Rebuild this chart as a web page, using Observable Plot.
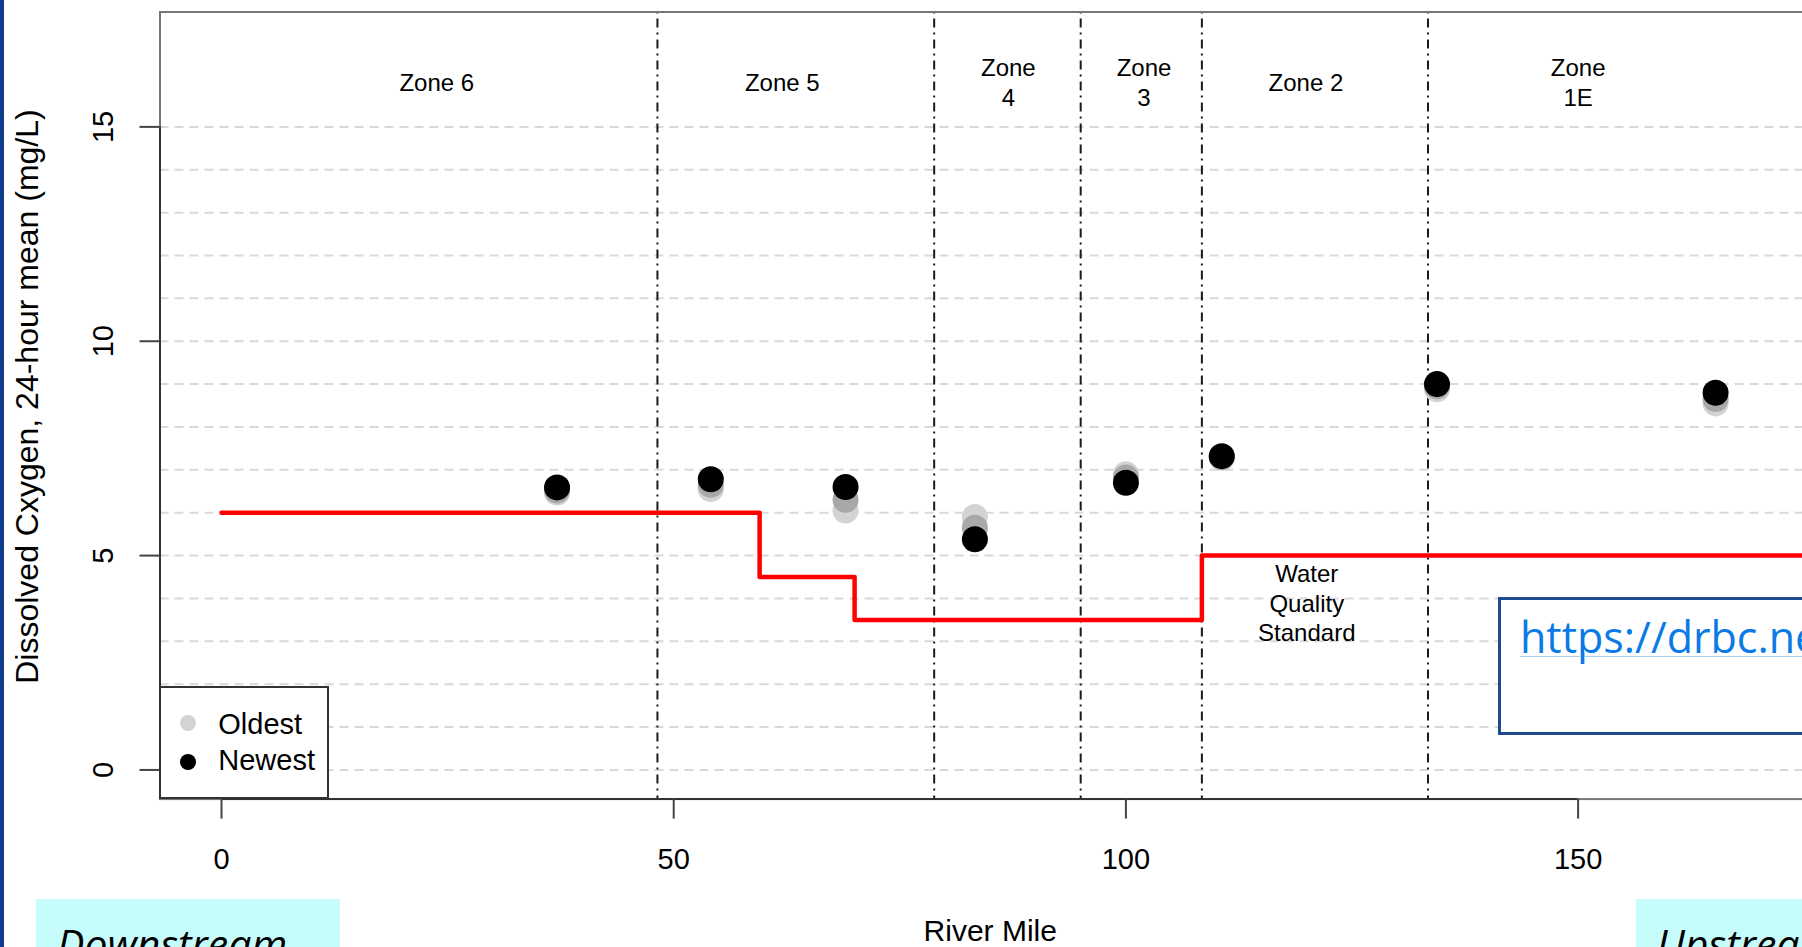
<!DOCTYPE html>
<html><head><meta charset="utf-8">
<script src="https://cdn.jsdelivr.net/npm/d3@7"></script>
<script src="https://cdn.jsdelivr.net/npm/@observablehq/plot@0.6"></script>
<style>
html,body{margin:0;padding:0;background:#fff;overflow:hidden;}
#wrap{position:relative;width:1802px;height:947px;overflow:hidden;background:#fff;}
#chart{position:absolute;left:0;top:0;}
#chart svg{max-width:none;}
.abs{position:absolute;}
#leftbar{left:0;top:0;width:4px;height:947px;background:#0f3d8c;}
#legend{left:159px;top:686px;width:170px;height:113px;box-sizing:border-box;border:2px solid #333;background:#fff;}
.ldot{position:absolute;width:16px;height:16px;border-radius:50%;}
.ltxt{position:absolute;font-family:'Liberation Sans',Arial,sans-serif;font-size:29px;line-height:29px;color:#000;white-space:nowrap;}
#urlbox{left:1498px;top:597px;width:340px;height:138px;box-sizing:border-box;border:3px solid #1e4b8e;background:#fff;}
#urltxt{position:absolute;left:19px;top:15px;font-family:'Open Sans','Noto Sans',sans-serif;font-size:43px;line-height:43px;color:#0a7ae6;white-space:nowrap;text-decoration:underline;text-decoration-color:#a8d0f5;text-decoration-thickness:1px;text-underline-offset:3px;}
.cyan{background:#c6fcfc;height:60px;top:899px;}
.cyan span{position:absolute;left:21px;top:24px;font-family:'Open Sans','Noto Sans',sans-serif;font-style:italic;font-size:41px;line-height:41px;color:#000;white-space:nowrap;}
</style></head><body>
<div id="wrap">
  <div id="chart"></div>
  <div id="leftbar" class="abs"></div>
  <div id="legend" class="abs"></div>
  <div id="urlbox" class="abs"><span id="urltxt">https://drbc.net/</span></div>
  <div id="down" class="abs cyan" style="left:36px;width:304px;"><span>Downstream</span></div>
  <div id="up" class="abs cyan" style="left:1636px;width:200px;"><span>Upstream</span></div>
</div>
<script>
// ---- data ----
const stationMiles = [37.1, 54.1, 69.0, 83.3, 100.0, 110.6, 134.4, 165.2];
const doOldest = [6.47, 6.55, 6.05, 5.90, 6.90, 7.28, 8.88, 8.55];
const doMiddle = [6.52, 6.65, 6.30, 5.65, 6.82, 7.30, 8.95, 8.65];
const doNewest = [6.59, 6.78, 6.60, 5.38, 6.70, 7.32, 9.00, 8.80];
const seriesNames = ["Oldest", "Middle", "Newest"];
const seriesColors = ["#d3d3d3", "#a8a8a8", "#000000"];
const legendNames = ["Oldest", "Newest"];

const zoneBounds = [48.2, 78.8, 95.0, 108.4, 133.4];
const zoneLabels = ["Zone 6", "Zone 5", "Zone\n4", "Zone\n3", "Zone 2", "Zone\n1E"];
const zoneLabelMiles = [23.8, 62.0, 87.0, 102.0, 119.9, 150.0];
const zoneLabelValue = 16.06;

const wqsMiles = [0, 59.5, 70.0, 108.4, 176.8];
const wqsValues = [6.0, 4.5, 3.5, 5.0, 5.0];
const wqsLabel = "Water\nQuality\nStandard";
const wqsLabelMile = 120.0;
const wqsLabelValue = 3.92;

const xTicks = [0, 50, 100, 150];
const yTicks = [0, 5, 10, 15];
const gridValues = [0,1,2,3,4,5,6,7,8,9,10,11,12,13,14,15];
const xDomain = [-6.8, 176.8];
const yDomain = [-0.68, 17.68];
const xTitle = "River Mile";
const yTitle = "Dissolved Cxygen, 24-hour mean (mg/L)";

// ---- tables ----
const seriesValues = [doOldest, doMiddle, doNewest];
const rows = [];
seriesNames.forEach((s, k) => stationMiles.forEach((m, i) => rows.push({mile: m, value: seriesValues[k][i], series: s})));
const wqs = wqsMiles.map((m, i) => ({mile: m, value: wqsValues[i]}));
const zones = zoneLabels.map((l, i) => ({label: l, mile: zoneLabelMiles[i]}));

const chart = Plot.plot({
  width: 1830, height: 947,
  marginLeft: 159.5, marginRight: 10, marginTop: 11.5, marginBottom: 148.4,
  x: {domain: xDomain},
  y: {domain: yDomain},
  color: {domain: seriesNames, range: seriesColors},
  style: {fontFamily: "'Liberation Sans', Arial, sans-serif", background: "transparent", maxWidth: "none", color: "#000"},
  marks: [
    Plot.ruleY(gridValues, {stroke: "#d9d9d9", strokeWidth: 2, strokeDasharray: "9,6"}),
    Plot.ruleX(zoneBounds, {stroke: "#1a1a1a", strokeWidth: 2, strokeDasharray: "2,5,9,5"}),
    Plot.line(wqs, {x: "mile", y: "value", curve: "step-after", stroke: "#ff0000", strokeWidth: 4.5}),
    Plot.dot(rows, {x: "mile", y: "value", fill: "series", r: 13}),
    Plot.text(zones, {x: "mile", y: zoneLabelValue, text: "label", fontSize: 24, lineHeight: 1.25, fill: "#000"}),
    Plot.text([wqsLabel], {x: wqsLabelMile, y: wqsLabelValue, text: d => d, fontSize: 24, lineHeight: 1.25, fill: "#000"}),
    Plot.frame({stroke: "#777", strokeWidth: 2}),
    Plot.ruleY([yDomain[0]], {x1: xTicks[0], x2: xTicks[xTicks.length - 1], stroke: "#333", strokeWidth: 2}),
    Plot.ruleX([xDomain[0]], {y1: yTicks[0], y2: yTicks[yTicks.length - 1], stroke: "#333", strokeWidth: 2}),
    Plot.axisX({ticks: xTicks, tickSize: 20, tickPadding: 29, fontSize: 29, stroke: "#444", strokeWidth: 2, fill: "#000", label: null}),
    Plot.axisY({ticks: yTicks, tickSize: 20, tickFormat: () => "", stroke: "#444", strokeWidth: 2, label: null}),
    Plot.text(yTicks, {y: d => d, text: d => String(d), frameAnchor: "left", dx: -56, rotate: -90, fontSize: 29, textAnchor: "middle", lineAnchor: "middle", fill: "#000"}),
    Plot.text([xTitle], {frameAnchor: "bottom", dy: 132, fontSize: 30, text: d => d, textAnchor: "middle", lineAnchor: "middle", fill: "#000"}),
    Plot.text([yTitle], {frameAnchor: "left", dx: -132, dy: -9, rotate: -90, fontSize: 32, text: d => d, textAnchor: "middle", lineAnchor: "middle", fill: "#000"})
  ]
});
document.getElementById("chart").appendChild(chart);

// ---- legend (HTML, above the plot) ----
const legend = document.getElementById("legend");
legendNames.forEach((name, i) => {
  const color = seriesColors[seriesNames.indexOf(name)];
  const d = document.createElement("div");
  d.className = "ldot";
  d.style.left = (28.7 - 8 - 2) + "px";
  d.style.top = (37.3 - 8 - 2 + i * 38.4) + "px";
  d.style.background = color;
  legend.appendChild(d);
  const t = document.createElement("div");
  t.className = "ltxt";
  t.style.left = (59.3 - 2) + "px";
  t.style.top = (23.8 - 2 + i * 36.4) + "px";
  t.textContent = name;
  legend.appendChild(t);
});
</script>
</body></html>
